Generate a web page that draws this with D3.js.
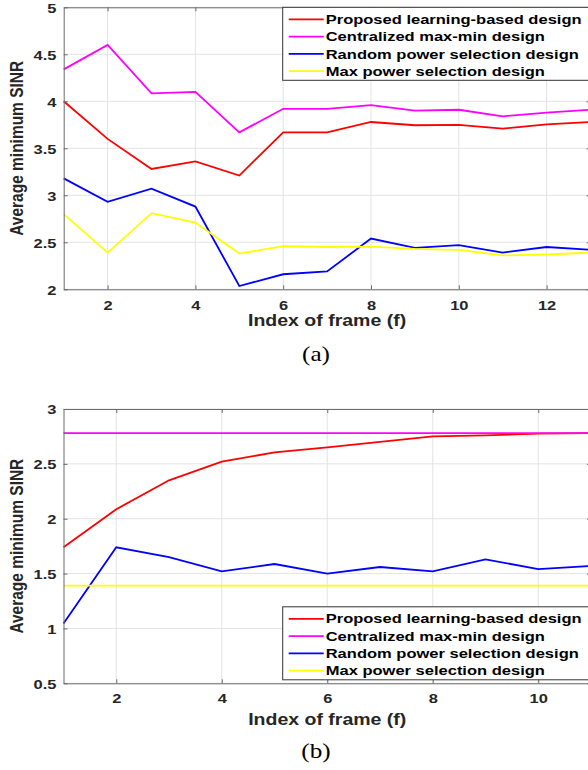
<!DOCTYPE html>
<html>
<head>
<meta charset="utf-8">
<script src="https://cdn.jsdelivr.net/npm/d3@7"></script>
<style>
  body { margin: 0; background: #fff; }
  text { font-family: "Liberation Sans", Arial, sans-serif; }
  text.caption { font-family: "Liberation Serif", "Times New Roman", serif; }
</style>
</head>
<body>
<div id="chart"></div>
<script>
// legend / series
const seriesNames = ["Proposed learning-based design", "Centralized max-min design",
  "Random power selection design", "Max power selection design"];
const seriesColors = ["#ff0000", "#ff00ff", "#0000ff", "#ffff00"];

// panel (a)
const framesA = [1, 2, 3, 4, 5, 6, 7, 8, 9, 10, 11, 12, 13];
const proposedA = [4.0, 3.6, 3.28, 3.36, 3.21, 3.67, 3.67, 3.78, 3.745, 3.75, 3.71, 3.755, 3.78];
const centralA  = [4.34, 4.6, 4.085, 4.1, 3.67, 3.92, 3.92, 3.96, 3.9, 3.91, 3.84, 3.88, 3.91];
const randomA   = [3.18, 2.93, 3.07, 2.88, 2.035, 2.16, 2.19, 2.54, 2.44, 2.47, 2.39, 2.45, 2.42];
const maxPowA   = [2.8, 2.39, 2.81, 2.71, 2.38, 2.46, 2.45, 2.455, 2.43, 2.42, 2.36, 2.37, 2.39];
const xTicksA = [2, 4, 6, 8, 10, 12];
const yTicksA = [2, 2.5, 3, 3.5, 4, 4.5, 5];

// panel (b)
const framesB = [1, 2, 3, 4, 5, 6, 7, 8, 9, 10, 11];
const proposedB = [1.74, 2.086, 2.35, 2.52, 2.605, 2.65, 2.7, 2.75, 2.76, 2.775, 2.78];
const centralB  = [2.78, 2.78, 2.78, 2.78, 2.78, 2.78, 2.78, 2.78, 2.78, 2.78, 2.78];
const randomB   = [1.046, 1.74, 1.65, 1.52, 1.587, 1.5, 1.56, 1.52, 1.63, 1.54, 1.57];
const maxPowB   = [1.39, 1.39, 1.39, 1.39, 1.39, 1.39, 1.39, 1.39, 1.39, 1.39, 1.39];
const xTicksB = [2, 4, 6, 8, 10];
const yTicksB = [0.5, 1, 1.5, 2, 2.5, 3];

const W = 588, H = 770;
const SX = 1.22;   // the figure is a bit stretched sideways
const axisCol = "#6b6b6b", gridCol = "#e3e3e3", textCol = "#262626";

const svg = d3.select("#chart").append("svg")
  .attr("width", W).attr("height", H);

function panel(p) {
  const x = d3.scaleLinear().domain(p.xDom).range([p.left, p.right]);
  const y = d3.scaleLinear().domain(p.yDom).range([p.bottom, p.top]);
  const g = svg.append("g");

  // grid
  g.selectAll(".gx").data(p.xTicks).enter().append("line")
    .attr("x1", d => x(d)).attr("x2", d => x(d))
    .attr("y1", p.top).attr("y2", p.bottom)
    .attr("stroke", gridCol).attr("stroke-width", 1);
  g.selectAll(".gy").data(p.yTicks).enter().append("line")
    .attr("x1", p.left).attr("x2", p.right)
    .attr("y1", d => y(d)).attr("y2", d => y(d))
    .attr("stroke", gridCol).attr("stroke-width", 1);

  // lines
  const line = d3.line().x(d => x(d[0])).y(d => y(d[1]));
  p.series.forEach((s, i) => {
    g.append("path")
      .datum(p.frames.map((f, j) => [f, s[j]]))
      .attr("fill", "none")
      .attr("stroke", seriesColors[i])
      .attr("stroke-width", 1.8)
      .attr("d", line);
  });

  // axes, ticks pointing in
  const bottom = g.append("g").attr("transform", `translate(0,${p.bottom})`)
    .call(d3.axisBottom(x).tickValues(p.xTicks).tickSize(-4).tickSizeOuter(0).tickPadding(0).tickFormat(d => d));
  const left = g.append("g").attr("transform", `translate(${p.left},0)`)
    .call(d3.axisLeft(y).tickValues(p.yTicks).tickSize(-4).tickSizeOuter(0).tickPadding(0).tickFormat(d => d));
  g.append("g").attr("transform", `translate(0,${p.top})`)
    .call(d3.axisTop(x).tickValues(p.xTicks).tickSize(-4).tickSizeOuter(0).tickFormat(""));
  g.append("g").attr("transform", `translate(${p.right},0)`)
    .call(d3.axisRight(y).tickValues(p.yTicks).tickSize(-4).tickSizeOuter(0).tickFormat(""));
  g.selectAll(".domain, .tick line").attr("stroke", axisCol);

  bottom.selectAll("text")
    .attr("x", null).attr("y", null).attr("dy", null)
    .attr("transform", `translate(0,${p.xTickBase - p.bottom}) scale(${SX},1)`)
    .attr("font-size", 13.5).attr("font-weight", "bold").attr("fill", textCol)
    .attr("font-family", null);
  left.selectAll("text")
    .attr("x", null).attr("dy", "0.36em")
    .attr("transform", `translate(${p.yTickRight - p.left},0) scale(${SX},1)`)
    .attr("font-size", 13.5).attr("font-weight", "bold").attr("fill", textCol)
    .attr("font-family", null);

  // axis titles
  g.append("text")
    .attr("transform", `translate(${(p.left + p.right) / 2},${p.xLabelBase}) scale(${SX},1)`)
    .attr("text-anchor", "middle").attr("font-size", 16).attr("font-weight", "bold")
    .attr("fill", textCol).text("Index of frame (f)");
  g.append("text")
    .attr("transform", `translate(23,${(p.top + p.bottom) / 2}) scale(${SX},1) rotate(-90)`)
    .attr("text-anchor", "middle").attr("font-size", 15.5).attr("font-weight", "bold")
    .attr("fill", textCol).text("Average minimum SINR");

  // legend
  const lg = g.append("g");
  lg.append("rect")
    .attr("x", p.legX).attr("y", p.legY).attr("width", 320).attr("height", 73)
    .attr("fill", "#fff").attr("stroke", "#333").attr("stroke-width", 1);
  seriesNames.forEach((n, i) => {
    const cy = p.legY + 12 + i * 17.3;
    lg.append("line")
      .attr("x1", p.legX + 6).attr("x2", p.legX + 41)
      .attr("y1", cy).attr("y2", cy)
      .attr("stroke", seriesColors[i]).attr("stroke-width", 1.8);
    lg.append("text")
      .attr("transform", `translate(${p.legX + 43},${cy + 4.6}) scale(1.29,1)`)
      .attr("font-size", 12.8).attr("font-weight", "bold").attr("fill", "#000")
      .text(n);
  });

  // caption
  svg.append("text")
    .attr("class", "caption")
    .attr("transform", `translate(316,${p.capBase}) scale(1.2,1)`)
    .attr("text-anchor", "middle")
    .attr("font-size", 21).attr("fill", "#000").text(p.caption);
}

panel({
  frames: framesA, series: [proposedA, centralA, randomA, maxPowA],
  xDom: [1, 13], yDom: [2, 5], xTicks: xTicksA, yTicks: yTicksA,
  left: 63.7, right: 590.5, top: 7.3, bottom: 289.3,
  xTickBase: 310, yTickRight: 56.5, xLabelBase: 326,
  legX: 282.7, legY: 7.3, caption: "(a)", capBase: 361
});

panel({
  frames: framesB, series: [proposedB, centralB, randomB, maxPowB],
  xDom: [1, 11], yDom: [0.5, 3], xTicks: xTicksB, yTicks: yTicksB,
  left: 63.5, right: 591, top: 409, bottom: 683.3,
  xTickBase: 702.5, yTickRight: 56.5, xLabelBase: 725,
  legX: 282.7, legY: 606.8, caption: "(b)", capBase: 758
});
</script>
</body>
</html>
